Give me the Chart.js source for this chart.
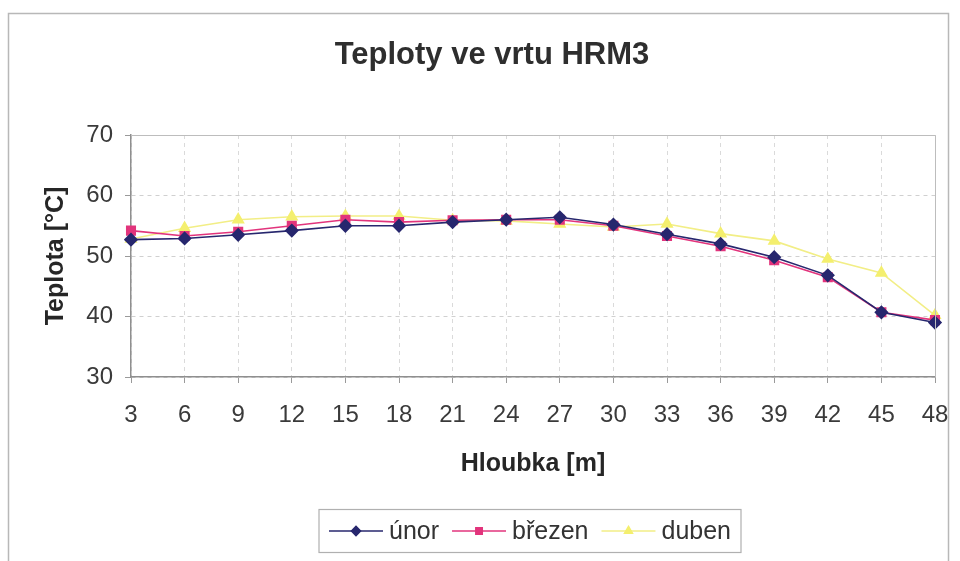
<!DOCTYPE html>
<html>
<head>
<meta charset="utf-8">
<script src="https://cdn.jsdelivr.net/npm/chart.js@4/dist/chart.umd.min.js"></script>
<style>
  html, body { margin:0; padding:0; background:#fff; }
  #wrap { width:960px; height:561px; }
</style>
</head>
<body>
<div id="wrap"><canvas id="graf" width="960" height="561"></canvas></div>
<script>
/* data z grafu - hloubka [m] a teploty [°C] */
const hloubky = ['3','6','9','12','15','18','21','24','27','30','33','36','39','42','45','48'];
const unor    = [52.7, 52.9, 53.5, 54.2, 55.0, 55.0, 55.6, 56.0, 56.4, 55.2, 53.6, 52.0, 49.8, 46.8, 40.7, 39.0];
const brezen  = [54.2, 53.3, 54.0, 55.0, 56.0, 55.6, 55.9, 56.0, 56.0, 55.0, 53.3, 51.6, 49.3, 46.5, 40.7, 39.4];
const duben   = [52.8, 54.6, 56.0, 56.5, 56.6, 56.6, 55.9, 55.8, 55.3, 54.8, 55.3, 53.7, 52.5, 49.5, 47.2, 40.2];
const osaY    = [30, 40, 50, 60, 70];
const nadpis  = 'Teploty ve vrtu HRM3';

const FONT = "'Liberation Sans', Arial, sans-serif";

// ramecek grafu, nadpis, okraj plochy
const ramecek = {
  id: 'ramecek',
  beforeDraw(chart){
    const c = chart.ctx;
    c.save();
    c.strokeStyle = '#b8b8b8';
    c.lineWidth = 1.5;
    c.strokeRect(8.5, 13.5, 940, 600);
    c.fillStyle = '#2e2e2e';
    c.font = 'bold 31px ' + FONT;
    c.textAlign = 'center';
    c.textBaseline = 'alphabetic';
    c.fillText(nadpis, 492, 64);
    c.restore();
  },
  afterDatasetsDraw(chart){
    const a = chart.chartArea, c = chart.ctx;
    c.save();
    c.strokeStyle = '#bdbdbd';
    c.lineWidth = 1;
    c.beginPath();
    c.moveTo(a.left, a.top + 0.5);
    c.lineTo(a.right + 0.5, a.top + 0.5);
    c.lineTo(a.right + 0.5, a.bottom);
    c.stroke();
    c.restore();
  }
};

// legenda jako v Excelu (cara + znacka)
const legenda = {
  id: 'legenda',
  afterDraw(chart){
    const c = chart.ctx;
    const sets = chart.data.datasets;
    c.save();
    c.font = '25px ' + FONT;
    c.textBaseline = 'middle';
    const lineW = 54, gap1 = 6, gap2 = 13, pad = 10;
    let total = pad * 2 - gap2;
    sets.forEach(d => { total += lineW + gap1 + c.measureText(d.label).width + gap2; });
    const cx = 530, cy = 531, h = 43;
    let x = cx - total / 2;
    c.strokeStyle = '#b0b0b0';
    c.lineWidth = 1.2;
    c.strokeRect(x, cy - h / 2, total, h);
    x += pad;
    sets.forEach(d => {
      c.strokeStyle = d.borderColor;
      c.lineWidth = d.borderWidth;
      c.beginPath();
      c.moveTo(x, cy);
      c.lineTo(x + lineW, cy);
      c.stroke();
      c.fillStyle = d.pointBackgroundColor;
      c.strokeStyle = d.pointBorderColor;
      Chart.helpers.drawPoint(c, {pointStyle: d.pointStyle, radius: d.pointRadius - 1.5, borderWidth: 1, rotation: 0}, x + lineW / 2, cy);
      x += lineW + gap1;
      c.fillStyle = '#333';
      c.fillText(d.label, x, cy + 1);
      x += c.measureText(d.label).width + gap2;
    });
    c.restore();
  }
};

const ctx = document.getElementById('graf').getContext('2d');
new Chart(ctx, {
  type: 'line',
  data: {
    labels: hloubky,
    datasets: [
      { label: 'únor', data: unor, borderColor: '#27276e', borderWidth: 1.6,
        pointStyle: 'rectRot', pointRadius: 6, pointBackgroundColor: '#27276e', pointBorderColor: '#27276e' },
      { label: 'březen', data: brezen, borderColor: '#e2347c', borderWidth: 1.6,
        pointStyle: 'rect', pointRadius: 6, pointBackgroundColor: '#e2347c', pointBorderColor: '#e2347c' },
      { label: 'duben', data: duben, borderColor: '#f2ee86', borderWidth: 1.6,
        pointStyle: 'triangle', pointRadius: 6, pointBackgroundColor: '#f4ef6e', pointBorderColor: '#f4ef6e' }
    ]
  },
  options: {
    animation: false,
    responsive: false,
    layout: { padding: { left: 0, right: 25, top: 135, bottom: 71 } },
    plugins: {
      legend: { display: false },
      tooltip: { enabled: false },
      title: { display: false }
    },
    scales: {
      x: {
        type: 'category',
        offset: false,
        afterFit(s){ s.height = 113; s.paddingLeft = 0; s.paddingRight = 0; },
        grid: { color: '#dadada', lineWidth: 1, tickLength: 6, tickColor: '#9a9a9a', tickBorderDash: [] },
        border: { display: true, color: '#8f8f8f', width: 1.5, dash: [4, 4] },
        ticks: { color: '#3a3a3a', padding: 18, maxRotation: 0, autoSkip: false,
                 font: { family: FONT, size: 24 } },
        title: { display: true, text: 'Hloubka [m]', color: '#262626',
                 font: { family: FONT, size: 25, weight: 'bold', lineHeight: 1.2 },
                 padding: { top: 0, bottom: 11 } }
      },
      y: {
        min: osaY[0], max: osaY[osaY.length - 1],
        afterFit(s){ s.width = 131; },
        afterBuildTicks(s){ s.ticks = osaY.map(v => ({ value: v })); },
        grid: { color: '#d0d0d0', lineWidth: 1, tickLength: 6, tickColor: '#9a9a9a', tickBorderDash: [] },
        border: { display: true, color: '#8f8f8f', width: 1.5, dash: [4, 4] },
        ticks: { color: '#3a3a3a', padding: 12, font: { family: FONT, size: 24 } },
        title: { display: true, text: 'Teplota [°C]', color: '#262626',
                 font: { family: FONT, size: 25, weight: 'bold', lineHeight: 1.2 },
                 padding: { top: 41, bottom: 0 } }
      }
    }
  },
  plugins: [ramecek, legenda]
});
</script>
</body>
</html>
